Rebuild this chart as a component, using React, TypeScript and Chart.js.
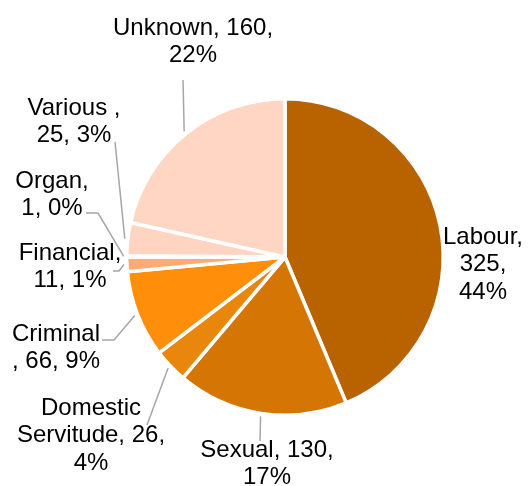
import React, { useEffect, useRef } from "react";
import { Chart, registerables } from "chart.js";

Chart.register(...registerables);

const categories = ["Labour", "Sexual", "Domestic Servitude", "Criminal", "Financial", "Organ", "Various", "Unknown"];
const counts = [325, 130, 26, 66, 11, 1, 25, 160];
const percentLabels = ["44%", "17%", "4%", "9%", "1%", "0%", "3%", "22%"];
const sliceColors = ["#B86300", "#D57604", "#E8870B", "#FF8E0B", "#FFAA72", "#FFC4A2", "#FFD5C2", "#FFD5C3"];

// label text lines (Excel-style wrapped data labels)
const labelLines: string[][] = [
  ["Labour,", "325,", "44%"],
  ["Sexual, 130,", "17%"],
  ["Domestic", "Servitude, 26,", "4%"],
  ["Criminal", ", 66, 9%"],
  ["Financial,", "11, 1%"],
  ["Organ,", "1, 0%"],
  ["Various ,", "25, 3%"],
  ["Unknown, 160,", "22%"],
];

// layout only: label centre x, first line centre y, leader points near label
const labelLayout: { x: number; y: number; leader: number[][] }[] = [
  { x: 483, y: 237, leader: [] },
  { x: 267, y: 450, leader: [[260, 441]] },
  { x: 91, y: 408, leader: [[147, 425]] },
  { x: 56, y: 334, leader: [[102, 340], [114, 340]] },
  { x: 70, y: 253, leader: [[113, 271], [119, 271]] },
  { x: 52, y: 181, leader: [[86, 213], [98, 213]] },
  { x: 74, y: 108, leader: [[115, 142]] },
  { x: 193, y: 28, leader: [[183, 80]] },
];

const LINE_H = 27.5;

const labelPlugin = {
  id: "excelLabels",
  afterDatasetsDraw(chart: any) {
    const ctx = chart.ctx;
    const meta = chart.getDatasetMeta(0);
    ctx.save();
    meta.data.forEach((arc: any, i: number) => {
      const lay = labelLayout[i];
      const mid = (arc.startAngle + arc.endAngle) / 2;
      const r = arc.outerRadius + 3;
      const ex = arc.x + Math.cos(mid) * r;
      const ey = arc.y + Math.sin(mid) * r;
      if (lay.leader.length) {
        ctx.beginPath();
        ctx.strokeStyle = "#A6A6A6";
        ctx.lineWidth = 1.5;
        ctx.moveTo(lay.leader[0][0], lay.leader[0][1]);
        for (let k = 1; k < lay.leader.length; k++) ctx.lineTo(lay.leader[k][0], lay.leader[k][1]);
        ctx.lineTo(ex, ey);
        ctx.stroke();
      }
      ctx.fillStyle = "#000000";
      ctx.font = "24px 'Liberation Sans', Arial, sans-serif";
      ctx.textAlign = "center";
      ctx.textBaseline = "middle";
      labelLines[i].forEach((line, j) => {
        ctx.fillText(line, lay.x, lay.y + j * LINE_H);
      });
    });
    ctx.restore();
  },
};

export default function App() {
  const ref = useRef<HTMLCanvasElement>(null);
  useEffect(() => {
    if (!ref.current) return;
    const chart = new Chart(ref.current, {
      type: "pie",
      data: {
        labels: categories,
        datasets: [
          {
            data: counts,
            backgroundColor: sliceColors,
            borderColor: "#FFFFFF",
            borderWidth: 3.5,
            hoverBorderWidth: 3.5,
            hoverOffset: 0,
          },
        ],
      },
      options: {
        responsive: false,
        animation: false,
        layout: { padding: { left: 125, right: 83, top: 97, bottom: 69 } },
        plugins: {
          legend: { display: false },
          tooltip: { enabled: false },
        },
        events: [],
      },
      plugins: [labelPlugin],
    });
    return () => chart.destroy();
  }, []);
  return (
    <div style={{ position: "fixed", left: 0, top: 0, width: 528, height: 486, background: "#fff" }}>
      <canvas ref={ref} width={528} height={486} style={{ display: "block" }} />
    </div>
  );
}
